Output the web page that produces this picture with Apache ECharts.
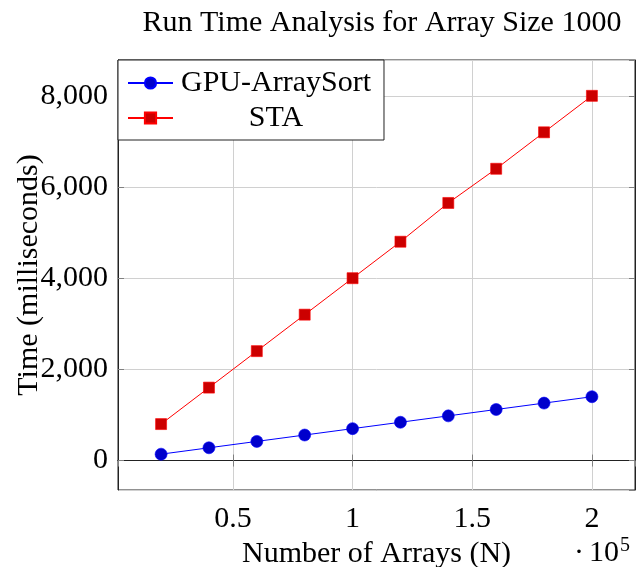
<!DOCTYPE html>
<html><head><meta charset="utf-8">
<script src="https://cdn.jsdelivr.net/npm/echarts@6/dist/echarts.min.js"></script>
<style>html,body{margin:0;padding:0;background:#fff}#c{width:636px;height:567px}</style>
</head><body><div id="c"></div>
<script>
const arrays = [20000, 40000, 60000, 80000, 100000, 120000, 140000, 160000, 180000, 200000];
const gpuArraySort = [140, 280, 420, 560, 700, 840, 980, 1120, 1260, 1400];
const sta = [800, 1600, 2400, 3200, 4000, 4800, 5650, 6400, 7200, 8000];
const seriesNames = ['GPU-ArraySort', 'STA'];
const titleText = 'Run Time Analysis for Array Size 1000';
const xName = 'Number of Arrays (N)';
const yName = 'Time (milliseconds)';

const F = 'Liberation Serif';
const FS = 30;
const chart = echarts.init(document.getElementById('c'), null, {renderer: 'canvas'});
const tickStyle = {show: true, inside: true, length: 6, lineStyle: {color: '#808080', width: 1}};
const split = {show: true, lineStyle: {color: '#d0d0d0', width: 1}};
const xr = {min: 2000, max: 218000};
const yr = {min: -646, max: 8786};
chart.setOption({
  animation: false,
  backgroundColor: '#fff',
  title: {text: titleText, left: 377, textAlign: 'center', top: 3,
    textStyle: {fontFamily: F, fontSize: FS, fontWeight: 'normal', color: '#000'}},
  grid: {left: 118, right: 1, top: 60, bottom: 77, containLabel: false, outerBoundsMode: 'none',
    show: true, borderColor: '#222', borderWidth: 1},
  legend: {
    orient: 'vertical', left: 118, top: 60,
    backgroundColor: '#fff', borderColor: '#222', borderWidth: 1,
    padding: [8, 13, 7, 9], itemGap: 5, itemWidth: 45, itemHeight: 14,
    textStyle: {fontFamily: F, fontSize: FS, color: '#000',
      rich: {c: {width: 196, align: 'center', fontFamily: F, fontSize: FS, color: '#000'}}},
    formatter: n => '{c|' + n + '}',
    data: seriesNames
  },
  xAxis: [{
    type: 'value', ...xr,
    name: xName, nameLocation: 'middle', nameGap: 48,
    nameTextStyle: {fontFamily: F, fontSize: FS, color: '#000'},
    axisLine: {show: true, lineStyle: {color: '#222'}},
    axisTick: tickStyle, splitLine: split,
    axisLabel: {fontFamily: F, fontSize: FS, color: '#000', margin: 14,
      showMinLabel: false, showMaxLabel: false,
      formatter: v => String(+(v / 1e5).toFixed(2))}
  }, {
    type: 'value', position: 'top', ...xr,
    axisLine: {show: true, lineStyle: {color: '#222'}},
    axisTick: tickStyle, splitLine: {show: false}, axisLabel: {show: false}
  }],
  yAxis: [{
    type: 'value', ...yr,
    name: yName, nameLocation: 'middle', nameGap: 74, nameRotate: 90, nameMoveOverlap: false,
    nameTextStyle: {fontFamily: F, fontSize: FS, color: '#000'},
    axisLine: {show: true, lineStyle: {color: '#222'}},
    axisTick: tickStyle, splitLine: split,
    axisLabel: {fontFamily: F, fontSize: FS, color: '#000', margin: 10,
      showMinLabel: false, showMaxLabel: false,
      formatter: v => v.toLocaleString('en-US')}
  }, {
    type: 'value', position: 'right', ...yr,
    axisLine: {show: true, lineStyle: {color: '#222'}},
    axisTick: tickStyle, splitLine: {show: false}, axisLabel: {show: false}
  }],
  graphic: [{
    type: 'text', left: 574, top: 536,
    style: {text: '{a|·}{c|10}{b|5}', rich: {
      a: {fontFamily: F, fontSize: FS, fill: '#000'},
      c: {fontFamily: F, fontSize: FS, fill: '#000', padding: [0, 0, 0, 5]},
      b: {fontFamily: F, fontSize: 20, fill: '#000', verticalAlign: 'top', padding: [0, 0, 14, 1]}
    }}
  }],
  series: [{
    name: seriesNames[0], type: 'line', data: arrays.map((x, i) => [x, gpuArraySort[i]]),
    symbol: 'circle', symbolSize: 12,
    lineStyle: {color: '#0000ff', width: 1},
    itemStyle: {color: '#0000cc', borderColor: '#0000ff', borderWidth: 0.6},
    z: 3
  }, {
    name: seriesNames[1], type: 'line', data: arrays.map((x, i) => [x, sta[i]]),
    symbol: 'rect', symbolSize: 11,
    lineStyle: {color: '#ff0000', width: 1},
    itemStyle: {color: '#cc0000', borderColor: '#ff0000', borderWidth: 0.6},
    z: 3
  }]
});
</script></body></html>
